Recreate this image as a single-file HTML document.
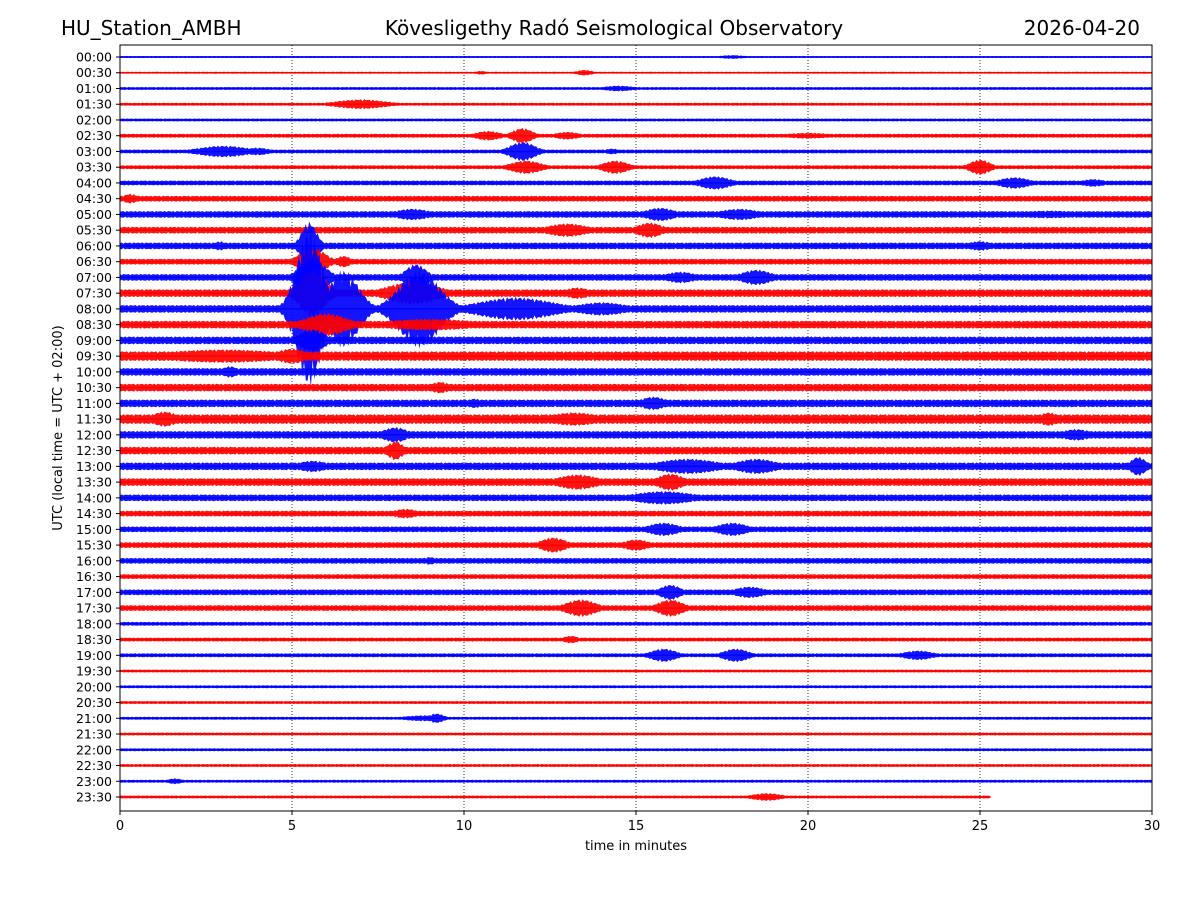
<!DOCTYPE html>
<html><head><meta charset="utf-8"><style>
body{margin:0;background:#fff}
svg{display:block;font-family:"DejaVu Sans","Liberation Sans",sans-serif}
</style></head><body>
<svg id="c" width="1200" height="900" viewBox="0 0 1200 900">
<rect width="1200" height="900" fill="#fff"/>
<text x="61" y="35" font-size="20">HU_Station_AMBH</text>
<text x="614" y="35" font-size="20" text-anchor="middle">Kövesligethy Radó Seismological Observatory</text>
<text x="1140" y="35" font-size="20" text-anchor="end">2026-04-20</text>
<g id="grid"></g><g id="traces"></g><g id="axes"></g>
<text x="636" y="850" font-size="13" text-anchor="middle">time in minutes</text>
<text transform="translate(62,428) rotate(-90)" font-size="13" text-anchor="middle">UTC (local time = UTC + 02:00)</text>
</svg>
<script>
const rowLabels=[];for(let h=0;h<24;h++){const s=String(h).padStart(2,'0');rowLabels.push(s+':00',s+':30');}
const xTicks=[0,5,10,15,20,25,30];
const baseAmp=[1,1,1.5,1.5,1.5,2,2,2,2.5,3,3.5,3.5,3.5,3,3.5,4,4,4,4,5,4,4,4,5,4,4,4,4,3.5,3,3,3,3,2.5,3,3,2,2,2,1.5,1.5,1.5,1.5,1.5,1.5,1.5,1.5,1.5];
// events: [row, minute, amplitude(px), width(min)]
const events=[[0,17.8,2,0.5],[1,13.5,3,0.3],[1,10.5,2,0.2],[2,14.5,3,0.6],[3,7,5,1],[5,10.7,5,0.5],[5,11.7,8,0.4],[5,13,4,0.5],[5,20,3,1],
[6,3,6,1],[6,4,4,0.5],[6,11.7,10,0.5],[6,14.3,3,0.3],[7,11.8,7,0.6],[7,14.4,7,0.5],[7,25,8,0.4],[8,17.3,7,0.6],[8,26,6,0.6],[8,28.3,4,0.5],[9,0.3,5,0.3],
[10,8.5,6,0.7],[10,15.7,7,0.6],[10,18,6,0.8],[10,27,4,1.5],[11,13,7,0.8],[11,15.4,8,0.5],[12,5.5,25,0.3],[12,2.9,5,0.2],[12,25,5,0.5],[13,5.6,15,0.5],[13,6.5,6,0.3],
[14,5.6,20,0.5],[14,8.6,14,0.4],[14,16.3,6,0.6],[14,18.5,8,0.6],[15,5.6,25,0.5],[15,8.5,12,1],[15,13.3,6,0.5],[16,5.5,80,0.5],[16,6.5,40,0.6],[16,8.7,40,0.8],[16,11.5,12,1.5],[16,14,7,1],
[17,6,12,0.8],[17,9,6,2],[18,5.6,12,0.5],[19,3,7,2.5],[19,5,8,0.6],[20,3.2,6,0.3],[21,9.3,6,0.4],[22,15.5,7,0.5],[22,10.3,5,0.3],[23,1.3,8,0.5],[23,13.2,7,1],[23,27,7,0.4],
[24,8,8,0.5],[24,27.8,6,0.6],[25,8,10,0.3],[26,5.6,6,0.6],[26,16.5,8,1.2],[26,18.5,8,0.8],[26,29.6,10,0.3],[27,13.3,8,0.8],[27,16,9,0.5],[28,15.8,7,1.2],[29,8.3,5,0.5],
[30,15.8,7,0.6],[30,17.8,7,0.6],[31,12.6,8,0.5],[31,15,6,0.5],[32,9,4,0.3],[34,16,8,0.4],[34,18.3,6,0.6],[35,13.4,9,0.6],[35,16,9,0.5],[37,13.1,4,0.3],
[38,15.8,7,0.5],[38,17.9,7,0.5],[38,23.2,5,0.6],[42,9.2,5,0.3],[42,8.8,3,0.8],[46,1.6,3,0.3],[47,18.8,4,0.6]];
const lastMinute=25.3;
const X=m=>120+m*1032/30, Y=i=>57+i*(797-57)/47;
const NS='http://www.w3.org/2000/svg';
const g=document.getElementById('grid'),t=document.getElementById('traces'),a=document.getElementById('axes');
function mk(tag,at,p){const e=document.createElementNS(NS,tag);for(const k in at)e.setAttribute(k,at[k]);p.appendChild(e);return e;}
xTicks.slice(1,-1).forEach(v=>{const l=mk('line',{x1:X(v),x2:X(v),y1:45,y2:811,stroke:'#000','stroke-width':0.8,'stroke-dasharray':'1,2'},g);

});
rowLabels.forEach((lab,i)=>{
 const y=Y(i),end=i===47?lastMinute:30;let top=[],bot=[];
 for(let m=0;m<=end+1e-9;m+=0.05){let amp=baseAmp[i];
  events.forEach(e=>{if(e[0]===i){const d=(m-e[1])/e[3];const v=e[2]*Math.exp(-d*d);if(v>amp)amp=v;}});
  const w=amp*(0.6+0.4*Math.abs(Math.sin(m*37+i)));
  top.push(X(m).toFixed(1)+','+(y-w).toFixed(1));bot.unshift(X(m).toFixed(1)+','+(y+w).toFixed(1));}
 const col=i%2?'#ff0000':'#0000ff';
 const p=mk('polygon',{points:top.concat(bot).join(' '),fill:col,'fill-opacity':0.92},t);
 
 
 mk('line',{x1:X(0),x2:X(end),y1:y,y2:y,stroke:col,'stroke-width':1.5},t);
 mk('line',{x1:116,x2:120,y1:y,y2:y,stroke:'#000'},a);
 const tx=mk('text',{x:112,y:y+4.5,'font-size':12.5,'text-anchor':'end'},a);tx.textContent=lab;
 
 
});
const fr=mk('rect',{x:120,y:45,width:1032,height:766,fill:'none',stroke:'#000','stroke-width':1},a);


xTicks.forEach(v=>{mk('line',{x1:X(v),x2:X(v),y1:811,y2:815,stroke:'#000'},a);
 const tx=mk('text',{x:X(v),y:830,'font-size':13,'text-anchor':'middle'},a);tx.textContent=v;
 
 });
</script>
</body></html>
